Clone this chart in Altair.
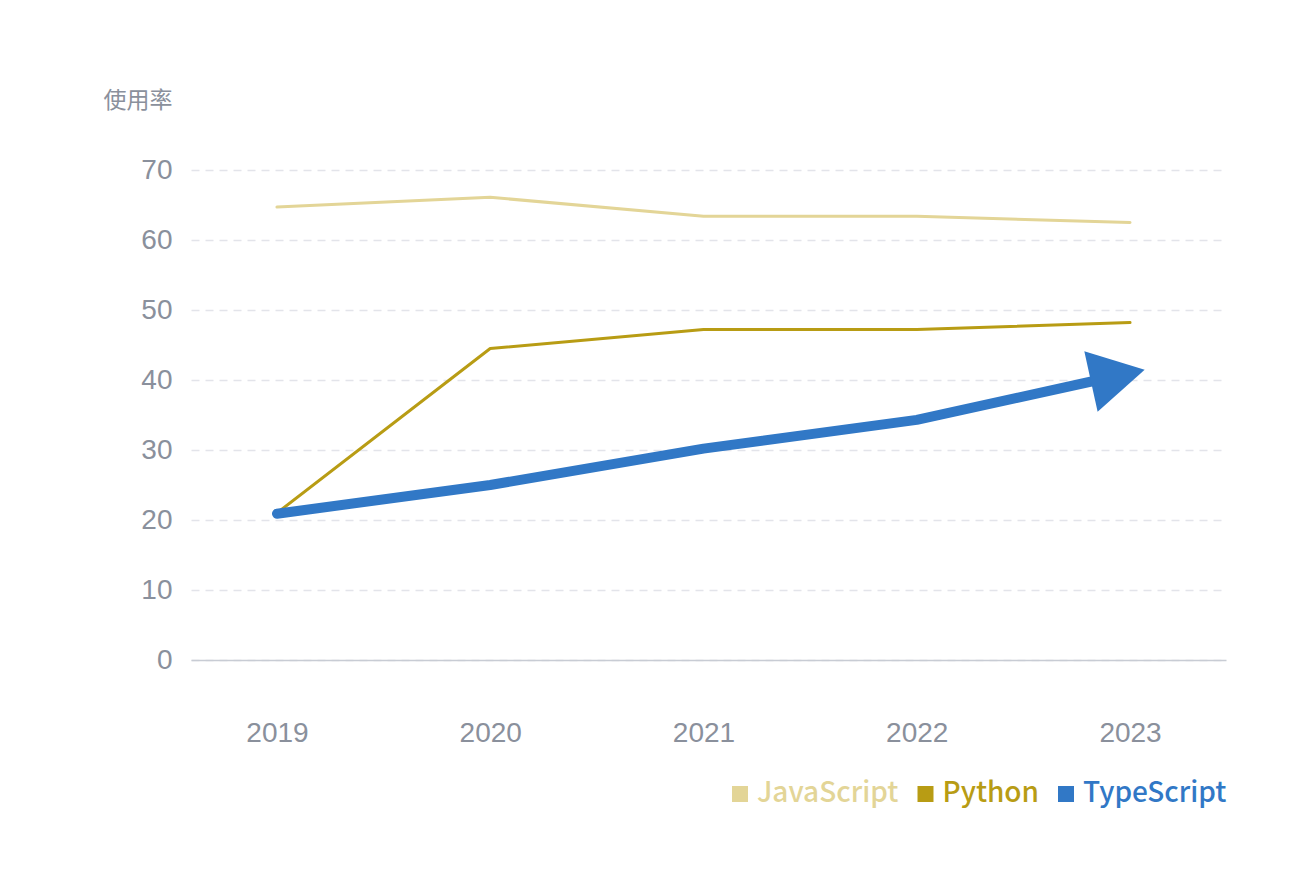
import altair as alt
import pandas as pd

years = [2019, 2020, 2021, 2022, 2023]
languages = ["JavaScript", "Python", "TypeScript"]
javascript = [64.7, 66.1, 63.4, 63.4, 62.5]
python = [21.0, 44.5, 47.2, 47.2, 48.2]
typescript = [20.9, 25.0, 30.2, 34.3, 41.0]
colors = ["#e3d597", "#b89c14", "#3178c6"]
widths = [3, 3, 10]

rows = []
for lang, vals in zip(languages, [javascript, python, typescript]):
    for y, v in zip(years, vals):
        rows.append({"year": y, "lang": lang, "value": v})
df = pd.DataFrame(rows)

xscale = alt.Scale(domain=[2018.597, 2023.45], nice=False, zero=False)
yscale = alt.Scale(domain=[0, 70], nice=False)
cscale = alt.Scale(domain=languages, range=colors)

legend = alt.Legend(title=None, orient="none", legendX=535, legendY=610,
                    direction="horizontal", columns=3, symbolType="square",
                    symbolSize=256, symbolOpacity=1, symbolStrokeWidth=0,
                    labelFont="Noto Sans CJK SC", labelFontSize=28, labelFontWeight=500,
                    labelOffset=3, columnPadding=12.5, padding=0,
                    labelColor=alt.ExprRef(expr="datum.label == 'Python' ? '#b89c14' : datum.label == 'TypeScript' ? '#3178c6' : '#e3d597'"))

x = alt.X("year:Q", scale=xscale,
          axis=alt.Axis(values=years, format="d", title=None, grid=False, ticks=False,
                        domain=True, domainColor="#c8ccd4", domainWidth=1.5,
                        labelFont="Liberation Sans", labelFontSize=28, labelColor="#8a909c",
                        labelPadding=59, labelFlush=False))
y = alt.Y("value:Q", scale=yscale,
          axis=alt.Axis(values=[0, 10, 20, 30, 40, 50, 60, 70], title="使用率", titleAngle=0,
                        titleAlign="left", titleBaseline="middle", titleX=-88, titleY=-70,
                        titleFont="Noto Sans CJK SC", titleFontSize=23, titleFontWeight="normal",
                        titleColor="#8a909c", domain=False, ticks=False,
                        labelFont="Liberation Sans", labelFontSize=28, labelColor="#8a909c",
                        labelPadding=19, grid=True, gridColor="#e3e4ea", gridDash=[8, 6],
                        gridWidth=1.5))

layers = []
for i, lang in enumerate(languages):
    layers.append(
        alt.Chart(df).transform_filter(alt.datum.lang == lang)
        .mark_line(strokeCap="round", strokeJoin="round", strokeWidth=widths[i])
        .encode(x=x, y=y, order=alt.Order("year:Q"),
                color=alt.Color("lang:N", scale=cscale, legend=legend))
    )

arrow = alt.Chart(df).transform_filter(
    (alt.datum.lang == "TypeScript") & (alt.datum.year == 2023)
).mark_point(
    shape="M0.375,0L-1,-0.775L-1,0.775Z", filled=True, size=6400, angle=347.6, opacity=1, strokeWidth=0
).encode(
    x="year:Q", y="value:Q",
    fill=alt.Fill("lang:N", scale=cscale, legend=legend),
)

chart = alt.layer(*layers, arrow).properties(
    width=1035, height=490,
    autosize=alt.AutoSizeParams(type="none"),
    padding={"left": 183, "top": 162, "right": 60, "bottom": 200},
).configure(background="white").configure_view(strokeWidth=0)

chart.save("out.html", embed_options={"renderer": "svg", "actions": False})
